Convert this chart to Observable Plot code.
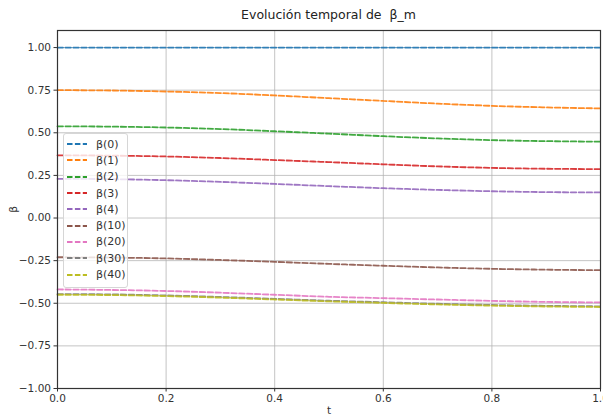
<!DOCTYPE html>
<html><head><meta charset="utf-8">
<script src="https://cdn.jsdelivr.net/npm/d3@7"></script>
<script src="https://cdn.jsdelivr.net/npm/@observablehq/plot@0.6"></script>
<style>
body{margin:0;background:#fff;font-family:"DejaVu Sans",sans-serif;}
#wrap{position:relative;width:603px;height:416px;overflow:hidden;}
#title{position:absolute;left:57px;width:543px;top:7px;text-align:center;font-size:12.5px;color:#222;}
#chart{position:absolute;left:0;top:25px;}
#legend{position:absolute;left:63px;top:133px;width:63px;padding:2px 0 4px 0;background:rgba(255,255,255,0.8);border:1px solid #d6d6d6;border-radius:3px;font-size:11px;color:#333;}
.row{display:flex;align-items:center;height:16.3px;}
.row svg{margin-left:3px;margin-right:9px;}
</style></head>
<body><div id="wrap"><div id="title">Evolución temporal de&nbsp; β_m</div><div id="chart"></div><div id="legend"></div></div>
<script>
const t = [0,0.1,0.2,0.3,0.4,0.5,0.6,0.7,0.8,0.9,1.0];
const seriesNames = ["β(0)","β(1)","β(2)","β(3)","β(4)","β(10)","β(20)","β(30)","β(40)"];
const colors = ["#1f77b4","#ff7f0e","#2ca02c","#d62728","#9467bd","#8c564b","#e377c2","#7f7f7f","#bcbd22"];
const beta0  = [1,1,1,1,1,1,1,1,1,1,1];
const beta1  = [0.750,0.748,0.742,0.733,0.719,0.703,0.687,0.671,0.658,0.649,0.643];
const beta2  = [0.538,0.536,0.531,0.522,0.509,0.495,0.480,0.467,0.457,0.451,0.448];
const beta3  = [0.368,0.366,0.361,0.352,0.340,0.328,0.315,0.303,0.294,0.289,0.287];
const beta4  = [0.230,0.228,0.222,0.212,0.200,0.187,0.175,0.165,0.157,0.152,0.150];
const beta10 = [-0.230,-0.232,-0.237,-0.246,-0.257,-0.269,-0.280,-0.290,-0.298,-0.303,-0.306];
const beta20 = [-0.419,-0.422,-0.428,-0.438,-0.450,-0.462,-0.470,-0.478,-0.486,-0.492,-0.495];
const beta30 = [-0.446,-0.448,-0.454,-0.463,-0.474,-0.485,-0.494,-0.503,-0.510,-0.515,-0.518];
const beta40 = [-0.450,-0.452,-0.458,-0.467,-0.478,-0.489,-0.498,-0.507,-0.514,-0.519,-0.522];
const yTicks = [-1,-0.75,-0.5,-0.25,0,0.25,0.5,0.75,1];
const xTicks = [0,0.2,0.4,0.6,0.8,1.0];

const allSeries = [beta0,beta1,beta2,beta3,beta4,beta10,beta20,beta30,beta40];
const data = [];
allSeries.forEach((s,i)=>s.forEach((v,j)=>data.push({t:t[j],v,name:seriesNames[i]})));

const plot = Plot.plot({
  width:603, height:391,
  marginLeft:57, marginRight:3, marginTop:5, marginBottom:28,
  style:{fontFamily:"DejaVu Sans, sans-serif", fontSize:"10.5px", color:"#333"},
  x:{domain:[0,1]},
  y:{domain:[-1,1.1]},
  color:{domain:seriesNames, range:colors},
  marks:[
    Plot.gridX(xTicks,{stroke:"#b0b0b0", strokeOpacity:0.75, strokeWidth:1}),
    Plot.gridY(yTicks,{stroke:"#b0b0b0", strokeOpacity:0.75, strokeWidth:1}),
    Plot.axisX({ticks:xTicks, tickFormat:d3.format(".1f"), tickSize:3.5, tickPadding:3, label:"t", labelAnchor:"center", labelArrow:"none", labelOffset:25}),
    Plot.axisY({ticks:yTicks, tickFormat:d3.format(".2f"), tickSize:3.5, tickPadding:3, label:"β", labelAnchor:"center", labelArrow:"none", labelOffset:48}),
    Plot.line(data,{x:"t", y:"v", z:"name", stroke:"name", strokeWidth:1.8, strokeOpacity:0.9, strokeDasharray:"5.5,2.4", curve:"monotone-x"}),
    Plot.frame({stroke:"#333", strokeWidth:1.2})
  ]
});
document.getElementById("chart").appendChild(plot);

const leg = d3.select("#legend");
seriesNames.forEach((n,i)=>{
  const row = leg.append("div").attr("class","row");
  const svg = row.append("svg").attr("width",20).attr("height",6);
  svg.append("line").attr("x1",0).attr("x2",20).attr("y1",3).attr("y2",3)
    .attr("stroke",colors[i]).attr("stroke-width",1.8).attr("stroke-dasharray","5.5,2.4");
  row.append("span").text(n);
});
</script></body></html>
